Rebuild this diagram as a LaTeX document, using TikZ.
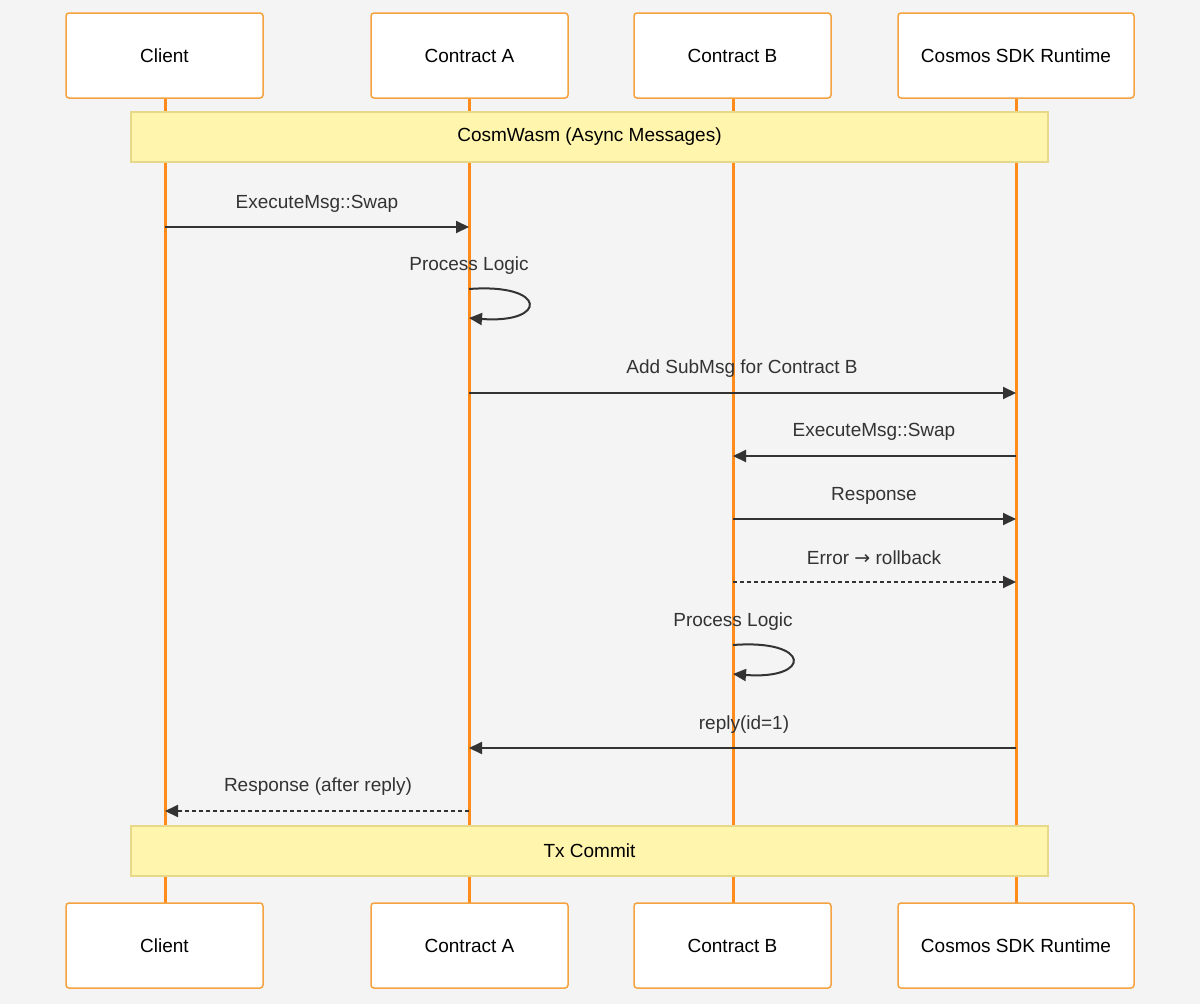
\documentclass[tikz,border=0pt]{standalone}
\usepackage{fontspec}
\setmainfont{Liberation Sans}
\newfontfamily\dv{DejaVu Sans}
\usetikzlibrary{arrows.meta}
\definecolor{bg}{HTML}{F4F4F4}
\definecolor{life}{HTML}{FF8C1A}
\definecolor{boxb}{HTML}{F5A340}
\definecolor{notef}{HTML}{FFF5AD}
\definecolor{noteb}{HTML}{E8D98A}
\definecolor{ink}{HTML}{333333}
\begin{document}
\begin{tikzpicture}[x=1pt,y=-1pt,
  actor/.style={draw=boxb,fill=white,line width=1.5pt,rounded corners=3pt,minimum height=85pt,font=\fontsize{19}{22}\selectfont,text=black},
  note/.style={draw=noteb,fill=notef,line width=1.3pt,minimum width=917pt,minimum height=50pt,font=\fontsize{19}{22}\selectfont},
  msg/.style={draw=ink,line width=2pt,-{Triangle[length=13pt,width=12pt]}},
  dmsg/.style={msg,dash pattern=on 4pt off 3pt},
  lbl/.style={font=\fontsize{19}{22}\selectfont,text=ink},
  lifeline/.style={draw=life,line width=3pt}]
\fill[bg] (0,0) rectangle (1200,1004);
\useasboundingbox (0,0) rectangle (1200,1004);
% lifelines
\foreach \x in {165,469,733,1016} \draw[lifeline] (\x,98) -- (\x,903);
% actors
\node[actor,minimum width=197pt] (c1) at (164.5,55.5) {Client};
\node[actor,minimum width=197pt] (a1) at (469.5,55.5) {Contract A};
\node[actor,minimum width=197pt] (b1) at (732.5,55.5) {Contract B};
\node[actor,minimum width=236pt] (s1) at (1016,55.5) {Cosmos SDK Runtime};
\node[actor,minimum width=197pt] (c2) at (164.5,945.5) {Client};
\node[actor,minimum width=197pt] (a2) at (469.5,945.5) {Contract A};
\node[actor,minimum width=197pt] (b2) at (732.5,945.5) {Contract B};
\node[actor,minimum width=236pt] (s2) at (1016,945.5) {Cosmos SDK Runtime};
% notes
\node[note] (n1) at (589.5,137) {CosmWasm (Async Messages)};
\node[note] (n2) at (589.5,851) {Tx Commit};
% coordinates
\coordinate (m1s) at (165,227); \coordinate (m1e) at (469,227);
\coordinate (m3s) at (469,393); \coordinate (m3e) at (1016,393);
\coordinate (m4s) at (1016,456); \coordinate (m4e) at (733,456);
\coordinate (m5s) at (733,519); \coordinate (m5e) at (1016,519);
\coordinate (m6s) at (733,582); \coordinate (m6e) at (1016,582);
\coordinate (m8s) at (1016,748); \coordinate (m8e) at (469,748);
\coordinate (m9s) at (469,811); \coordinate (m9e) at (165,811);
\coordinate (l1s) at (469,289); \coordinate (l1e) at (469,318);
\coordinate (l2s) at (733,645); \coordinate (l2e) at (733,674);
\draw[msg] (m1s) -- (m1e);
\node[lbl] (t1) at (317,204) {ExecuteMsg::Swap};
\draw[msg] (l1s) .. controls (548,283) and (548,324) .. (l1e);
\node[lbl] (t2) at (469,266) {Process Logic};
\draw[msg] (m3s) -- (m3e);
\node[lbl] (t3) at (742,369) {Add SubMsg for Contract B};
\draw[msg] (m4s) -- (m4e);
\node[lbl] (t4) at (874,432) {ExecuteMsg::Swap};
\draw[msg] (m5s) -- (m5e);
\node[lbl] (t5) at (874,496) {Response};
\draw[dmsg] (m6s) -- (m6e);
\node[lbl] (t6) at (874,558) {Error {\dv →} rollback};
\draw[msg] (l2s) .. controls (812,639) and (812,680) .. (l2e);
\node[lbl] (t7) at (733,622) {Process Logic};
\draw[msg] (m8s) -- (m8e);
\node[lbl] (t8) at (744,725) {reply(id=1)};
\draw[dmsg] (m9s) -- (m9e);
\node[lbl] (t9) at (318,787) {Response (after reply)};
\end{tikzpicture}
\end{document}
